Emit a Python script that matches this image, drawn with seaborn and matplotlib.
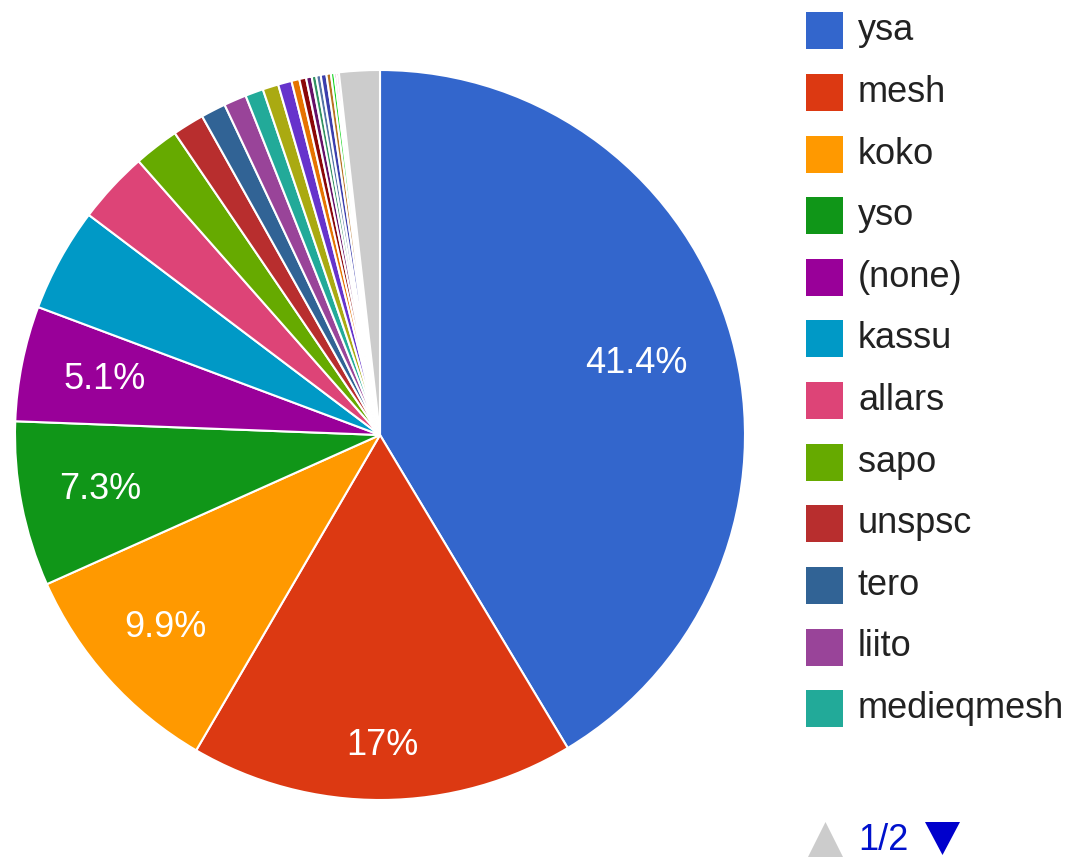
import matplotlib
matplotlib.use("Agg")
import matplotlib.pyplot as plt
import seaborn as sns
import numpy as np

# ------------------------
# Data
# ------------------------

labels = ["ysa", "mesh", "koko", "yso", "(none)", "kassu", "allars", "sapo",
          "unspsc", "tero", "liito", "medieqmesh", "v13", "v14", "v15", "v16",
          "v17", "v18", "v19", "v20", "v21", "v22", "v23", "v24", "Other"]
shares = [41.4, 17.0, 9.9, 7.3, 5.1, 4.6, 3.2, 2.0,
          1.4, 1.1, 1.0, 0.8, 0.7, 0.6, 0.35, 0.3,
          0.25, 0.2, 0.2, 0.25, 0.2, 0.15, 0.1, 0.1, 1.8]
colors = ["#3366cc", "#dc3912", "#ff9900", "#109618", "#990099", "#0099c6",
          "#dd4477", "#66aa00", "#b82e2e", "#316395", "#994499", "#22aa99",
          "#aaaa11", "#6633cc", "#e67300", "#8b0707", "#651067", "#329262",
          "#5574a6", "#3b3eac", "#b77322", "#16d620", "#b91383", "#f4359e",
          "#cccccc"]
legend_count = 12
page_text = "1/2"

sns.set_theme(style="white")
plt.rcParams["font.family"] = ["Liberation Sans", "DejaVu Sans"]

palette = sns.color_palette(colors)

W, H = 1075, 860
fig = plt.figure(figsize=(W / 100, H / 100), dpi=100)
ax = fig.add_axes([15 / W, 60 / H, 730 / W, 730 / H])


def fmt_pct(p):
    if p < 5:
        return ""
    return f"{p:.1f}".rstrip("0").rstrip(".") + "%"


wedges, texts, autotexts = ax.pie(
    shares,
    colors=palette,
    startangle=90,
    counterclock=False,
    autopct=fmt_pct,
    pctdistance=0.78,
    wedgeprops=dict(edgecolor="white", linewidth=1.5),
    textprops=dict(color="white", fontsize=26),
)
ax.set_xlim(-1, 1)
ax.set_ylim(-1, 1)
ax.set_aspect("equal")
ax.axis("off")

# Google-style label radii for the labelled slices
label_radius = [0.73, 0.85, 0.79, 0.78, 0.77]
for w, t, r in zip(wedges, autotexts, label_radius):
    ang = np.deg2rad((w.theta1 + w.theta2) / 2)
    t.set_position((r * np.cos(ang), r * np.sin(ang)))

# ------------------------
# Legend (first page)
# ------------------------

for i in range(legend_count):
    yc = 1 - (31 + 61.6 * i) / H
    fig.patches.append(plt.Rectangle((806 / W, yc - 18.5 / H), 37 / W, 37 / H,
                                     transform=fig.transFigure, facecolor=colors[i],
                                     edgecolor="none"))
    fig.text(858 / W, yc, labels[i], fontsize=26, color="#222222",
             va="center", ha="left")

# pager
up = [(808 / W, 1 - 857 / H), (843 / W, 1 - 857 / H), (825.5 / W, 1 - 822 / H)]
down = [(925 / W, 1 - 822 / H), (960 / W, 1 - 822 / H), (942.5 / W, 1 - 855 / H)]
fig.patches.append(plt.Polygon(up, closed=True, transform=fig.transFigure,
                               facecolor="#cccccc", edgecolor="none"))
fig.patches.append(plt.Polygon(down, closed=True, transform=fig.transFigure,
                               facecolor="#0000cc", edgecolor="none"))
fig.text(858 / W, 1 - 840 / H, page_text, fontsize=26, color="#0011cc",
         ha="left", va="center")

plt.savefig("out.png", dpi=100)
